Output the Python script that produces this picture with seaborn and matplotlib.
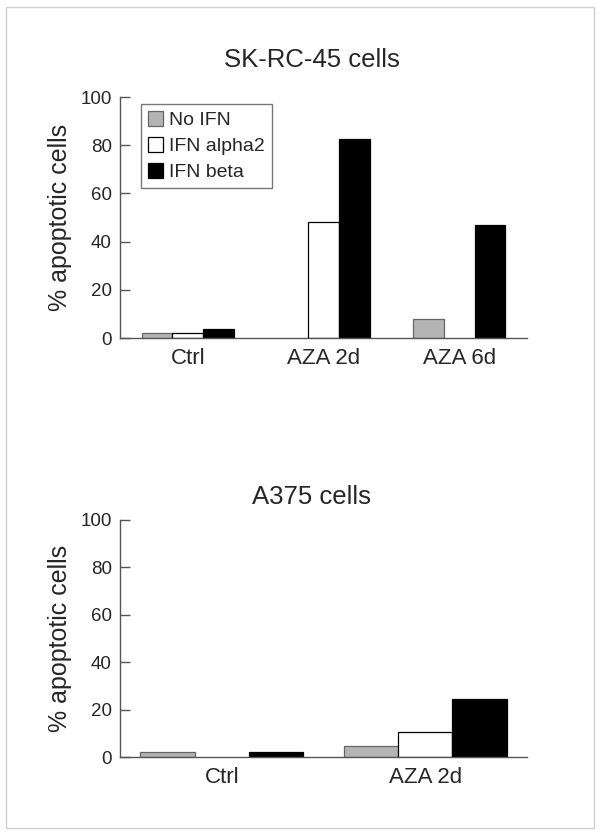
import matplotlib
matplotlib.use("Agg")
import matplotlib.pyplot as plt
from matplotlib.patches import Rectangle, Patch
import seaborn as sns
import pandas as pd

# ---- data ----
series_names = ["No IFN", "IFN alpha2", "IFN beta"]
series_colors = ["#b4b4b4", "#ffffff", "#000000"]
series_edges = ["#666666", "#000000", "#000000"]

top_title = "SK-RC-45 cells"
top_groups = ["Ctrl", "AZA 2d", "AZA 6d"]
top_no_ifn = [2.2, 0.0, 7.8]
top_alpha2 = [2.2, 48.0, 0.0]
top_beta = [3.6, 82.5, 47.0]

bot_title = "A375 cells"
bot_groups = ["Ctrl", "AZA 2d"]
bot_no_ifn = [2.2, 4.6]
bot_alpha2 = [0.0, 10.5]
bot_beta = [2.4, 24.4]

y_ticks = [0, 20, 40, 60, 80, 100]
y_label = "% apoptotic cells"


def make_df(groups, a, b, c):
    rows = []
    for vals, name in zip([a, b, c], series_names):
        for g, v in zip(groups, vals):
            rows.append({"group": g, "series": name, "value": v})
    return pd.DataFrame(rows)


sns.set_theme(style="white")
plt.rcParams["font.family"] = ["Liberation Sans", "DejaVu Sans"]

fig = plt.figure(figsize=(6.01, 8.35), dpi=100)
fig.patch.set_facecolor("white")

ax_top = fig.add_axes([120 / 601, 1 - 338 / 835, 407 / 601, 241 / 835])
ax_bot = fig.add_axes([120 / 601, 1 - 757.3 / 835, 407 / 601, 237.3 / 835])

palette = dict(zip(series_names, series_colors))

for ax, groups, data, width, title, title_y in [
    (ax_top, top_groups, (top_no_ifn, top_alpha2, top_beta), 0.68, top_title, 60),
    (ax_bot, bot_groups, (bot_no_ifn, bot_alpha2, bot_beta), 0.8, bot_title, 497),
]:
    df = make_df(groups, *data)
    sns.barplot(data=df, x="group", y="value", hue="series", order=groups,
                hue_order=series_names, palette=palette, width=width,
                gap=0, saturation=1, legend=False, ax=ax, errorbar=None)
    for cont, ec in zip(ax.containers, series_edges):
        for p in cont.patches:
            p.set_edgecolor(ec)
            p.set_linewidth(0.9 if p.get_height() > 0 else 0)
    ax.set_ylim(0, 100)
    ax.set_xlim(-0.5, len(groups) - 0.5)
    ax.set_yticks(y_ticks)
    ax.set_xlabel("")
    ax.set_ylabel(y_label, fontsize=18, labelpad=6)
    for s in ["top", "right"]:
        ax.spines[s].set_visible(False)
    for s in ["left", "bottom"]:
        ax.spines[s].set_color("#555555")
        ax.spines[s].set_linewidth(1.0)
    ax.tick_params(axis="y", direction="in", length=7, width=1.0,
                   color="#555555", labelsize=13.5, pad=6, left=True)
    ax.tick_params(axis="x", length=0, labelsize=16, pad=7)
    fig.text(312 / 601, 1 - title_y / 835, title, ha="center", va="center",
             fontsize=18.5)

handles = [Patch(facecolor=c, edgecolor=e, linewidth=0.9)
           for c, e in zip(series_colors, series_edges)]
leg = ax_top.legend(handles, series_names, loc="upper left",
                    bbox_to_anchor=(21 / 407, 1 - 7 / 241), borderaxespad=0,
                    fontsize=14, handlelength=0.8, handleheight=0.8,
                    handletextpad=0.3, labelspacing=0.4, borderpad=0.35,
                    fancybox=False, framealpha=1, edgecolor="#777777")
leg.get_frame().set_linewidth(1.0)

fig.patches.append(Rectangle((6 / 601, 1 - 828 / 835), 588 / 601, 821 / 835,
                             transform=fig.transFigure, fill=False,
                             edgecolor="#d0d0d0", linewidth=1.0))

fig.savefig("out.png", dpi=100)
